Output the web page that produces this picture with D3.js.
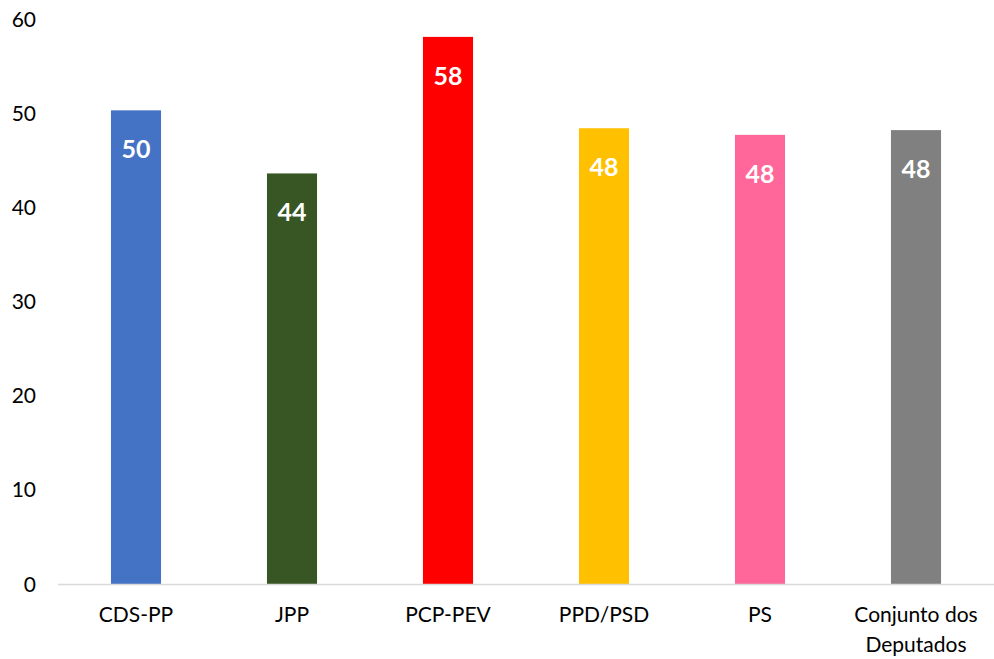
<!DOCTYPE html>
<html>
<head>
<meta charset="utf-8">
<script src="https://cdn.jsdelivr.net/npm/d3@7"></script>
<style>
  body { margin: 0; background: #fff; }
  svg { display: block; }
</style>
</head>
<body>
<div class="bar_chart"></div>
<script>
// data
const parties = ["CDS-PP", "JPP", "PCP-PEV", "PPD/PSD", "PS", "Conjunto dos Deputados"];
const partyLines = [["CDS-PP"], ["JPP"], ["PCP-PEV"], ["PPD/PSD"], ["PS"], ["Conjunto dos", "Deputados"]];
const values = [50.3, 43.6, 58.1, 48.4, 47.7, 48.2];
const barColors = ["#4472C4", "#375623", "#FF0000", "#FFC000", "#FF6699", "#808080"];
const yTicks = [0, 10, 20, 30, 40, 50, 60];

const width = 994, height = 659;
const font = "Lato, 'Noto Sans', sans-serif";

const x = d3.scaleBand()
  .domain(parties)
  .range([58, 994])
  .paddingInner(0.679)
  .paddingOuter(0.3395);

const y = d3.scaleLinear().domain([0, 60]).range([584, 19]);

const svg = d3.select(".bar_chart").append("svg")
  .attr("width", width)
  .attr("height", height)
  .attr("viewBox", [0, 0, width, height]);

// bars
svg.append("g")
  .selectAll("rect")
  .data(values)
  .join("rect")
  .attr("x", (d, i) => x(parties[i]))
  .attr("y", d => y(d))
  .attr("width", x.bandwidth())
  .attr("height", d => y(0) - y(d))
  .attr("fill", (d, i) => barColors[i]);

// baseline
svg.append("line")
  .attr("x1", 58).attr("x2", 994)
  .attr("y1", y(0) + 0.5).attr("y2", y(0) + 0.5)
  .attr("stroke", "#d9d9d9")
  .attr("stroke-width", 1.3);

// y tick labels (no axis line, no gridlines)
svg.append("g")
  .attr("font-family", font)
  .attr("font-size", 21)
  .attr("fill", "#000")
  .attr("text-anchor", "end")
  .selectAll("text")
  .data(yTicks)
  .join("text")
  .attr("x", 36)
  .attr("y", d => y(d))
  .attr("dy", "0.36em")
  .text(d => d);

// value labels inside bar tops
svg.append("g")
  .attr("font-family", font)
  .attr("font-size", 25)
  .attr("font-weight", "bold")
  .attr("fill", "#fff")
  .attr("text-anchor", "middle")
  .selectAll("text")
  .data(values)
  .join("text")
  .attr("x", (d, i) => x(parties[i]) + x.bandwidth() / 2)
  .attr("y", d => y(d) + 48)
  .text(d => Math.round(d));

// category labels
svg.append("g")
  .attr("font-family", font)
  .attr("font-size", 21)
  .attr("fill", "#000")
  .attr("text-anchor", "middle")
  .selectAll("text")
  .data(parties)
  .join("text")
  .attr("transform", d => `translate(${x(d) + x.bandwidth() / 2},622)`)
  .selectAll("tspan")
  .data((d, i) => partyLines[i])
  .join("tspan")
  .attr("x", 0)
  .attr("y", (_, i) => i * 30)
  .text(d => d);
</script>
</body>
</html>
